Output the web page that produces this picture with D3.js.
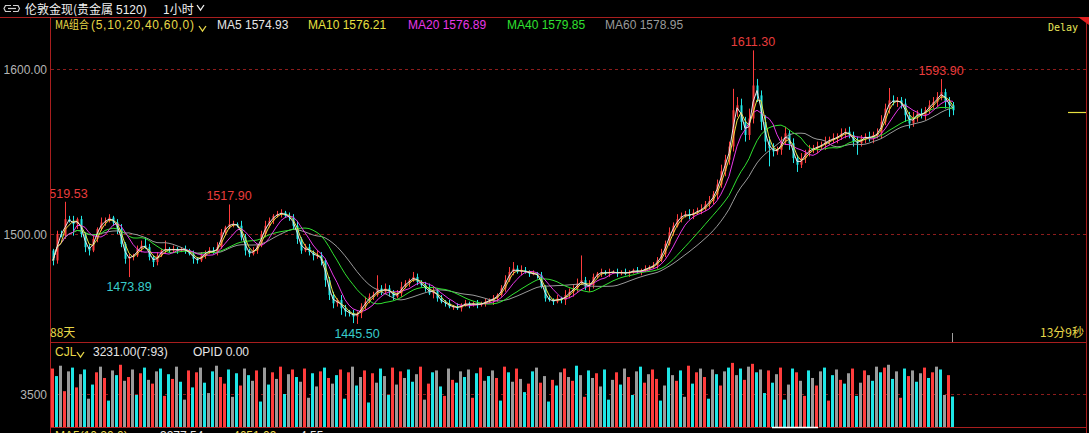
<!DOCTYPE html>
<html><head><meta charset="utf-8">
<script src="https://cdn.jsdelivr.net/npm/d3@7"></script>
<style>body{margin:0;background:#000;overflow:hidden}svg{display:block}</style>
</head><body><svg id="c" width="1089" height="433"></svg>
<script>
// ---------- DATA ----------
const firstOpen = 1490;
const closes = [
1484,1500,1499,1509,1508,1506,1509,1500,1492,1490,
1497,1503,1507,1508,1510,1507,1503,1494,1485,1486,
1487,1491,1493,1492,1486,1483,1487,1490,1491,1490,
1491,1490,1491,1490,1488,1485,1484,1487,1489,1490,
1489,1492,1501,1504,1506,1506,1505,1498,1490,1488,
1490,1493,1500,1505,1508,1511,1512,1513,1511,1510,
1505,1497,1490,1492,1489,1487,1487,1484,1472,1463,
1458,1460,1455,1453,1452,1450,1452,1456,1459,1462,
1463,1467,1465,1467,1465,1462,1464,1468,1470,1472,
1474,1471,1469,1467,1464,1466,1461,1459,1458,1456,
1456,1455,1457,1458,1457,1458,1457,1458,1459,1460,
1461,1463,1467,1472,1477,1479,1477,1478,1477,1476,
1476,1475,1468,1461,1460,1459,1461,1460,1463,1465,
1467,1470,1472,1468,1469,1474,1476,1477,1476,1477,
1477,1476,1477,1476,1477,1478,1477,1478,1479,1480,
1481,1484,1488,1494,1501,1505,1509,1511,1512,1511,
1513,1514,1515,1518,1520,1524,1530,1538,1545,1553,
1575,1578,1568,1560,1570,1590,1584,1568,1556,1552,
1550,1551,1556,1561,1555,1546,1542,1546,1549,1551,
1552,1553,1554,1556,1557,1558,1559,1561,1562,1560,
1556,1555,1558,1559,1558,1560,1561,1568,1576,1581,
1580,1581,1579,1572,1567,1571,1573,1572,1575,1578,
1580,1583,1586,1580,1578,1575];
const wickUp = [
1,2,2,10.53,2,3,1,2,1,2, 2,1,3,2,2,1,2,3,1,2, 1,2,3,5,2,1,2,1,5,1, 2,1,1,2,1,2,1,2,1,2,
2,3,2,1,11.9,2,1,3,2,1, 2,1,2,3,2,1,2,2,1,2, 2,3,1,2,2,1,3,2,1,2, 2,1,3,2,1,2,1,2,3,2,
2,8,2,3,2,1,2,3,2,1, 3,2,1,2,3,2,1,2,1,2, 1,2,1,2,1,1,2,1,2,1, 2,1,2,3,3,4,2,3,2,1,
2,1,2,1,2,1,2,1,3,2, 2,3,15,2,3,2,1,2,1,2, 1,2,1,2,1,1,2,1,2,1, 2,2,3,2,3,2,3,2,2,3,
2,2,3,2,3,2,3,4,3,3, 13,5,4,3,6,21.3,4,3,4,3, 3,2,3,4,2,3,2,3,2,3, 2,3,2,3,2,3,2,3,2,3,
2,3,2,2,3,2,3,4,3,7.5, 3,2,2,3,2,3,2,3,2,3, 3,3,7.9,2,3,2];
const wickDn = [
3,2,1,2,1,7,3,2,3,3, 1,2,1,2,1,2,3,2,3,11.11, 2,1,2,1,2,3,2,1,2,1, 1,2,1,2,1,3,2,1,2,1,
1,2,1,2,1,2,1,2,3,2, 1,2,1,2,1,2,1,2,1,2, 2,3,2,1,2,3,2,3,4,3, 3,2,4,3,2,4,4.5,3,2,1,
2,1,2,1,3,2,1,2,1,2, 1,2,1,2,1,3,2,1,2,1, 2,1,2,1,2,1,2,1,2,1, 3,2,1,2,1,2,1,2,1,2,
1,2,1,2,1,2,1,2,3,2, 3,2,1,2,3,2,1,2,1,2, 1,2,1,1,2,1,1,2,1,1, 1,2,1,2,1,2,1,2,1,2,
2,1,2,1,2,2,3,2,3,3, 3,4,5,4,3,3,4,5,6,11, 3,2,3,2,4,3,4.4,2,3,2, 2,3,2,3,2,2,3,2,3,2,
3,7,2,3,2,3,2,3,2,3, 2,3,3,4,3,2,3,2,3,2, 2,3,2,4,7,3];
const volumes = [
6200,5400,6500,3800,5900,6300,4200,5600,6100,3000,
4500,5800,6400,5200,2800,6000,5500,6600,4900,5300,
6100,3400,5700,6300,5000,4600,5900,6200,3300,5600,
5100,6400,4800,2900,6000,4200,5800,6300,4700,3600,
5900,6500,5300,4600,6100,3200,5700,4400,6200,5500,
4900,6000,2700,6300,4500,5800,5100,6400,3500,5600,
6100,5300,4800,6200,3100,5700,4300,5900,6300,5200,
4600,5500,6100,3000,5800,6400,4400,5300,6000,2600,
5700,4700,6200,5400,3400,6300,4500,5900,5200,6100,
4800,5600,6400,2900,4600,5800,6000,4300,3300,6200,
5000,4700,5900,5300,6100,3100,5700,6300,4900,5400,
6000,5200,2800,6400,5800,4800,6200,5100,3700,4600,
5900,6300,4700,5400,2700,5000,4400,5800,6200,5300,
4900,6500,5500,3200,6000,5200,5700,4300,6100,2900,
5000,5800,4500,6200,5300,3400,5900,6400,4700,5600,
6100,5100,2800,4400,6300,5500,4900,6000,3200,6500,
4600,5800,6200,5300,3000,6100,5600,4400,5900,6300,
6800,5500,6200,5000,6400,6700,5800,6100,3600,6000,
4700,5600,6300,2900,4500,6200,5800,4900,3300,6000,
5200,4400,5900,6300,2800,5500,6100,5000,4600,5700,
6200,3300,4700,6000,5500,4900,6400,5800,6300,6600,
5100,5900,3100,6200,5400,6000,4800,5700,6300,5200,
5800,6400,6100,3400,5500,3231];
const volColors =
"rcgrgcrgcg"+"crgrcgcrgr"+"gcrcgrgcrc"+"rgcgrcrgcg"+"cgrrcgcrgc"+"grcgcrgrcg"+
"rcgrgcgrcr"+"gcrcrgcgrc"+"rgcgcrgrgc"+"cgrgrcgcrg"+"rcgcgrcrgc"+"grcrcgrgcr"+
"cgrgcrcgrg"+"rcgrcgrgcc"+"grcgrcgcrg"+"rrcgcgrcgr"+"crgrcgcrgc"+"rgcrgrcgcr"+
"cgrcgcrgrc"+"grgcrcgrcg"+"rcgrgcgcrg"+"cgrcrgcgrc"+"rgcgrc";
const priceTicks = [1500, 1600];
const volTicks = [3500];
const maPeriods = [5, 10, 20, 40, 60];
const maLegendValues = [1574.93, 1576.21, 1576.89, 1579.85, 1578.95];
const maColors = ["#e6e6e6", "#e8e040", "#e838e8", "#30e030", "#9a9a9a"];
const highLabelIdx = [3, 44, 175, 222];
const lowLabelIdx = [19, 76];
const volLegend = "3231.00(7:93)";
// each drawn candle stands for ~3 source bars of the original chart
const barsPerCandle = 3.2;

// ---------- DERIVED ----------
const N = closes.length;
const opens = [firstOpen].concat(closes.slice(0, N - 1));
const highs = closes.map((c, i) => Math.max(c, opens[i]) + wickUp[i]);
const lows = closes.map((c, i) => Math.min(c, opens[i]) - wickDn[i]);

const svg = d3.select("#c");
const RED = "#a81e1e";
const FONT = "'Liberation Sans', Arial, sans-serif";
const CJK = "'Noto Sans CJK SC', sans-serif";

svg.append("rect").attr("width", 1089).attr("height", 433).attr("fill", "#000");

const x = d3.scaleBand().domain(d3.range(N)).range([51, 955]);
const xc = i => x(i) + x.bandwidth() / 2;
const yP = d3.scaleLinear().domain([1500, 1600]).range([234, 69]);
const yV = d3.scaleLinear().domain([0, 3500]).range([427, 394]);

// ---------- frame ----------
svg.append("line").attr("x1", 0).attr("x2", 1089).attr("y1", 17.5).attr("y2", 17.5).attr("stroke", RED);
svg.append("line").attr("x1", 50.5).attr("x2", 50.5).attr("y1", 17).attr("y2", 433).attr("stroke", RED);
svg.append("line").attr("x1", 1086.5).attr("x2", 1086.5).attr("y1", 17).attr("y2", 433).attr("stroke", RED);
svg.append("line").attr("x1", 50).attr("x2", 1087).attr("y1", 342.5).attr("y2", 342.5).attr("stroke", RED);
svg.append("line").attr("x1", 50).attr("x2", 1087).attr("y1", 427.5).attr("y2", 427.5).attr("stroke", RED);
svg.append("path").attr("d", "M1078,17 L1089,17 L1089,25 Z").attr("fill", "#e02020");

// ---------- title ----------
const icon = svg.append("g").attr("stroke", "#d0d0d0").attr("fill", "none").attr("stroke-width", 1.2);
icon.append("path").attr("d", "M11,5.5 L5.5,5.5 L4,8.5 L5.5,11.5 L11,11.5");
icon.append("path").attr("d", "M13,5.5 L18,5.5 L19.5,8.5 L18,11.5 L13,11.5");
icon.append("line").attr("x1", 8).attr("x2", 16).attr("y1", 8.5).attr("y2", 8.5);
svg.append("text").attr("x", 25).attr("y", 14).attr("fill", "#f0f0f0").attr("font-family", CJK)
  .attr("font-size", 12).text("伦敦金现(贵金属");
svg.append("text").attr("x", 116).attr("y", 14).attr("fill", "#f0f0f0").attr("font-family", FONT)
  .attr("font-size", 12).text("5120)");
svg.append("text").attr("x", 163).attr("y", 14).attr("fill", "#f0f0f0").attr("font-family", CJK)
  .attr("font-size", 12).text("1小时");
svg.append("path").attr("d", "M197,5 L200.5,10 L204,5").attr("stroke", "#f0f0f0").attr("fill", "none").attr("stroke-width", 1.3);

// ---------- MA legend ----------
svg.append("text").attr("x", 55).attr("y", 29).attr("fill", "#e8d848").attr("font-family", CJK)
  .attr("font-size", 11.5).attr("textLength", 34).attr("lengthAdjust", "spacingAndGlyphs").text("MA组合");
svg.append("text").attr("x", 91).attr("y", 29).attr("fill", "#e8d848").attr("font-family", FONT)
  .attr("font-size", 12).attr("textLength", 103).attr("lengthAdjust", "spacing").text("(5,10,20,40,60,0)");
svg.append("path").attr("d", "M199,26 L202.5,31 L206,26").attr("stroke", "#e8d848").attr("fill", "none").attr("stroke-width", 1.3);
const legX = [217, 308, 408, 507, 605];
maPeriods.forEach((p, k) => {
  svg.append("text").attr("x", legX[k]).attr("y", 29).attr("fill", maColors[k]).attr("font-family", FONT)
    .attr("font-size", 12).text("MA" + p + " " + maLegendValues[k].toFixed(2));
});
svg.append("text").attr("x", 1048).attr("y", 31).attr("fill", "#e6e65a").attr("font-family", "'DejaVu Sans Mono', monospace")
  .attr("font-size", 10).text("Delay");

// ---------- price grid & axis ----------
priceTicks.forEach(t => {
  svg.append("line").attr("x1", 51).attr("x2", 1086).attr("y1", Math.round(yP(t)) + 0.5).attr("y2", Math.round(yP(t)) + 0.5)
    .attr("stroke", "#8c1c1c").attr("stroke-dasharray", "3,3");
  svg.append("text").attr("x", 47).attr("y", yP(t) + 4.5).attr("text-anchor", "end").attr("fill", "#b4b4b4")
    .attr("font-family", FONT).attr("font-size", 12).text(t.toFixed(2));
});

// ---------- price panel ----------
svg.append("clipPath").attr("id", "pclip").append("rect").attr("x", 51).attr("y", 18).attr("width", 1035).attr("height", 324);
const pg = svg.append("g").attr("clip-path", "url(#pclip)");
const candleColor = i => closes[i] >= opens[i] ? "#ff3c3c" : "#20e8e8";
pg.selectAll("line.wick").data(d3.range(N)).join("line").attr("class", "wick")
  .attr("x1", i => Math.floor(xc(i)) + 0.5).attr("x2", i => Math.floor(xc(i)) + 0.5)
  .attr("y1", i => yP(highs[i])).attr("y2", i => yP(lows[i]))
  .attr("stroke", candleColor).attr("stroke-width", 1);
pg.selectAll("rect.body").data(d3.range(N)).join("rect").attr("class", "body")
  .attr("x", i => Math.floor(xc(i)) - 0.5).attr("width", 2)
  .attr("y", i => yP(Math.max(opens[i], closes[i])))
  .attr("height", i => Math.max(1, Math.abs(yP(opens[i]) - yP(closes[i]))))
  .attr("fill", candleColor);

function movingAvg(w) {
  return closes.map((c, i) => d3.mean(closes.slice(Math.max(0, i - w + 1), i + 1)));
}
const line = d3.line().x((d, i) => xc(i)).y(d => yP(d));
[4, 3, 2, 1, 0].forEach(k => {
  const w = Math.max(1, Math.round(maPeriods[k] / barsPerCandle));
  pg.append("path").attr("d", line(movingAvg(w))).attr("fill", "none")
    .attr("stroke", maColors[k]).attr("stroke-width", 1);
});

highLabelIdx.forEach(i => {
  pg.append("text").attr("x", xc(i)).attr("y", yP(highs[i]) - 4).attr("text-anchor", "middle")
    .attr("fill", "#e83c3c").attr("font-family", FONT).attr("font-size", 12.5).text(highs[i].toFixed(2));
});
lowLabelIdx.forEach(i => {
  pg.append("text").attr("x", xc(i)).attr("y", yP(lows[i]) + 14).attr("text-anchor", "middle")
    .attr("fill", "#38cccc").attr("font-family", FONT).attr("font-size", 12.5).text(lows[i].toFixed(2));
});

// current price marker
svg.append("line").attr("x1", 1068).attr("x2", 1086).attr("y1", Math.round(yP(closes[N - 1])) + 2.5)
  .attr("y2", Math.round(yP(closes[N - 1])) + 2.5).attr("stroke", "#e8e040").attr("stroke-width", 1.2);
svg.append("line").attr("x1", Math.floor(xc(N - 1)) - 0.5).attr("x2", Math.floor(xc(N - 1)) - 0.5)
  .attr("y1", 333).attr("y2", 342).attr("stroke", "#a0a0a0");

svg.append("text").attr("x", 50).attr("y", 337).attr("fill", "#e8d848").attr("font-family", CJK)
  .attr("font-size", 12).text("88天");
svg.append("text").attr("x", 1084).attr("y", 337).attr("text-anchor", "end").attr("fill", "#e8d848")
  .attr("font-family", CJK).attr("font-size", 12).text("13分9秒");

// ---------- volume panel ----------
svg.append("text").attr("x", 55).attr("y", 356).attr("fill", "#e8d848").attr("font-family", FONT)
  .attr("font-size", 12).text("CJL");
svg.append("path").attr("d", "M77,352 L80.5,357 L84,352").attr("stroke", "#e8d848").attr("fill", "none").attr("stroke-width", 1.3);
svg.append("text").attr("x", 93).attr("y", 356).attr("fill", "#e6e6e6").attr("font-family", FONT)
  .attr("font-size", 12).text(volLegend);
svg.append("text").attr("x", 193).attr("y", 356).attr("fill", "#e6e6e6").attr("font-family", FONT)
  .attr("font-size", 12).text("OPID 0.00");

volTicks.forEach(t => {
  svg.append("line").attr("x1", 51).attr("x2", 1086).attr("y1", Math.round(yV(t)) + 0.5).attr("y2", Math.round(yV(t)) + 0.5)
    .attr("stroke", "#8c1c1c").attr("stroke-dasharray", "3,3");
  svg.append("text").attr("x", 47).attr("y", yV(t) + 4.5).attr("text-anchor", "end").attr("fill", "#b4b4b4")
    .attr("font-family", FONT).attr("font-size", 12).text(t);
});
const vcol = { r: "#ff3c3c", c: "#1ee6e6", g: "#9a9a9a" };
svg.append("g").selectAll("rect").data(d3.range(N)).join("rect")
  .attr("x", i => x(i)).attr("width", x.bandwidth() - 1)
  .attr("y", i => yV(volumes[i])).attr("height", i => yV(0) - yV(volumes[i]))
  .attr("fill", i => vcol[volColors[i]]);
svg.append("line").attr("x1", 772).attr("x2", 818).attr("y1", 427.5).attr("y2", 427.5).attr("stroke", "#ffffff").attr("stroke-width", 1.5);

// bottom indicator legend (cut off by the window edge, as in the reference)
svg.append("text").attr("x", 55).attr("y", 440).attr("fill", "#e8d848").attr("font-family", FONT)
  .attr("font-size", 12).text("MA5(10,20,0)");
svg.append("text").attr("x", 160).attr("y", 440).attr("fill", "#e6e6e6").attr("font-family", FONT)
  .attr("font-size", 12).text("3277.54");
svg.append("text").attr("x", 233).attr("y", 440).attr("fill", "#e8d848").attr("font-family", FONT)
  .attr("font-size", 12).text("4651.09");
svg.append("text").attr("x", 300).attr("y", 440).attr("fill", "#e6e6e6").attr("font-family", FONT)
  .attr("font-size", 12).text("4.55");
</script></body></html>
